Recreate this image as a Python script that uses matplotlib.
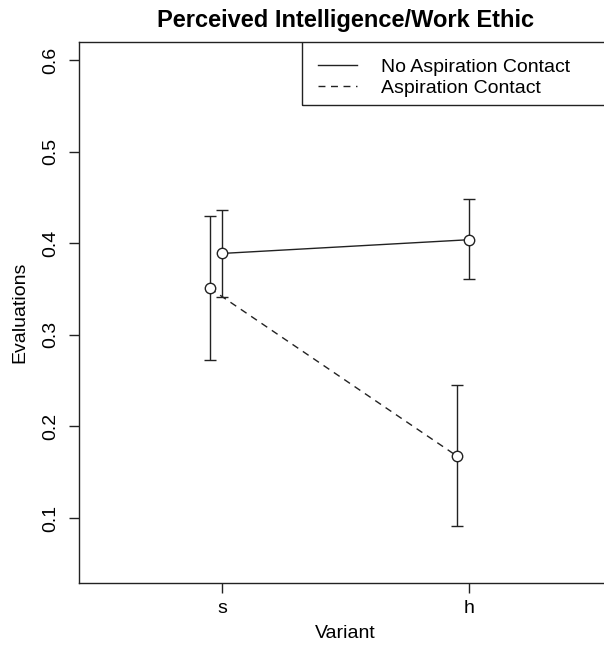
import numpy as np
import matplotlib
matplotlib.use("Agg")
import matplotlib.pyplot as plt
from matplotlib.patches import Rectangle

plt.rcParams['font.family'] = ['Liberation Sans', 'DejaVu Sans']

# data
variants = ['s', 'h']
no_asp_mean = [0.389, 0.404]
no_asp_lo = [0.341, 0.361]
no_asp_hi = [0.436, 0.449]
asp_mean = [0.351, 0.168]
asp_lo = [0.273, 0.091]
asp_hi = [0.430, 0.245]
series_names = ['No Aspiration Contact', 'Aspiration Contact']


def draw_group(ax, x, mean, lo, hi, ls):
    mean = np.array(mean)
    yerr = [mean - np.array(lo), np.array(hi) - mean]
    ax.errorbar(x, mean, yerr=yerr, fmt='none', ecolor='#222222',
                elinewidth=1.0, capsize=4, capthick=1.0, zorder=2)
    line, = ax.plot(x, mean, color='#222222', lw=1.0, ls=ls, zorder=1)
    if ls == '--':
        line.set_dashes((5, 4))
    ax.plot(x, mean, 'o', ms=7.5, mfc='white', mec='#222222', mew=1.0, zorder=3)
    return line


def interaction_plot():
    fig = plt.figure(figsize=(6.04, 6.49), dpi=100)
    ax = fig.add_axes([0.1308, 0.1017, 0.8824, 0.8336])

    x = np.arange(1, len(variants) + 1)
    l1 = draw_group(ax, x, no_asp_mean, no_asp_lo, no_asp_hi, '-')
    l2 = draw_group(ax, x - 0.05, asp_mean, asp_lo, asp_hi, '--')

    ax.set_xlim(0.42, 2.58)
    ax.set_ylim(0.029, 0.62)
    ax.set_xticks(x)
    ax.set_xticklabels(variants)
    ax.set_yticks([0.1, 0.2, 0.3, 0.4, 0.5, 0.6])
    ax.set_yticklabels(['0.1', '0.2', '0.3', '0.4', '0.5', '0.6'],
                       rotation=90, va='center')
    ax.tick_params(labelsize=14, length=7, width=1.0, color='#222222', pad=5)
    ax.tick_params(axis='y', pad=7)
    for s in ax.spines.values():
        s.set_linewidth(1.0)
        s.set_color('#222222')

    ax.set_xlabel('Variant', fontsize=14, labelpad=6)
    ax.set_ylabel('Evaluations', fontsize=14, labelpad=10)
    ax.set_title('Perceived Intelligence/Work Ethic', fontsize=17,
                 fontweight='bold', pad=11)

    # legend box runs off the right edge, as in the reference
    ax.add_patch(Rectangle((0.418, 0.8835), 0.7, 0.2, transform=ax.transAxes,
                           fill=False, lw=1.0, ec='#222222', clip_on=True))
    ax.legend([l1, l2], series_names, loc='upper left',
              bbox_to_anchor=(0.418, 1.0), frameon=False, fontsize=14,
              handlelength=2.0, handletextpad=1.2, borderpad=0.85,
              labelspacing=0.15, borderaxespad=0)

    fig.savefig('out.png', dpi=100)


if __name__ == '__main__':
    interaction_plot()
